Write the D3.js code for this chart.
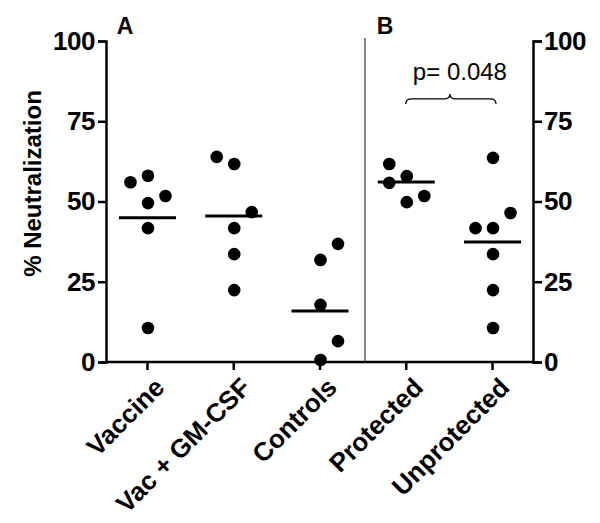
<!DOCTYPE html>
<html><head><meta charset="utf-8">
<script src="https://cdn.jsdelivr.net/npm/d3@7"></script>
<style>body{margin:0;background:#fff}svg{display:block;font-family:"Liberation Sans",Arial,sans-serif}</style>
</head><body><svg id="c" width="600" height="523"></svg>
<script>
const categories = ["Vaccine", "Vac + GM-CSF", "Controls", "Protected", "Unprotected"];
const vaccine = [58, 56, 51.7, 49.5, 41.7, 10.6];
const vacGM = [63.9, 61.7, 46.7, 41.7, 33.6, 22.4];
const controls = [36.8, 31.8, 17.8, 6.5, 0.6];
const protectedV = [61.7, 57.9, 55.8, 51.7, 49.8];
const unprotected = [63.6, 46.4, 41.7, 41.7, 33.6, 22.4, 10.6];
const groupMeans = [44.9, 45.5, 15.9, 56.1, 37.4];
const yTicks = [0, 25, 50, 75, 100];
const pLabel = "p= 0.048";
// layout: horizontal slot of each dot in its column (-1 left, 0 centre, 1 right)
const slots = [[0,-1,1,0,0,0],[-1,0,1,0,0,0],[1,0,0,1,0],[-1,0,-1,1,0],[0,1,-1,0,0,0,0]];

const groups = [vaccine, vacGM, controls, protectedV, unprotected];
const svg = d3.select("#c");
const mL = 106, mR = 533, mT = 41, mB = 362;
const x = d3.scalePoint().domain(categories).range([mL, mR]).padding(0.475);
const y = d3.scaleLinear().domain([0, 100]).range([mB, mT]);
const slotW = 17.5;

// axes
const yl = svg.append("g").attr("transform", `translate(${mL},0)`)
  .call(d3.axisLeft(y).tickValues(yTicks).tickSize(8).tickPadding(3));
const yr = svg.append("g").attr("transform", `translate(${mR},0)`)
  .call(d3.axisRight(y).tickValues(yTicks).tickSize(9).tickPadding(2));
const xa = svg.append("g").attr("transform", `translate(0,${mB})`)
  .call(d3.axisBottom(x).tickSize(8).tickFormat(""));
xa.select(".domain").attr("d", `M${mL},0H${mR}`);
[yl, yr, xa].forEach(g => {
  g.selectAll(".domain").attr("stroke", "#000").attr("stroke-width", 2.5);
  g.selectAll(".tick line").attr("stroke", "#000").attr("stroke-width", 2.5);
  g.selectAll("text").attr("font-size", 26).attr("font-weight", "bold").attr("fill", "#000")
    .attr("letter-spacing", -0.5)
    .attr("font-family", '"Liberation Sans",Arial,sans-serif');
});

// x labels
svg.append("g").selectAll("text").data(categories).join("text")
  .attr("transform", d => `translate(${x(d) + 19},${mB + 27}) rotate(-45)`)
  .attr("text-anchor", "end")
  .attr("font-size", 26).attr("font-weight", "bold")
  .text(d => d);

// y title
svg.append("text").attr("transform", `translate(41,${(mT + mB) / 2 - 18}) rotate(-90)`)
  .attr("text-anchor", "middle").attr("font-size", 24).attr("font-weight", "bold")
  .text("% Neutralization");

// panel divider
svg.append("line").attr("x1", 365).attr("x2", 365).attr("y1", 38).attr("y2", mB)
  .attr("stroke", "#333").attr("stroke-width", 1.2);

// panel letters
svg.append("text").attr("x", 125).attr("y", 34).attr("text-anchor", "middle")
  .attr("font-size", 23).attr("font-weight", "bold").text("A");
svg.append("text").attr("x", 385).attr("y", 34).attr("text-anchor", "middle")
  .attr("font-size", 23).attr("font-weight", "bold").text("B");

// dots
groups.forEach((vals, gi) => {
  svg.append("g").selectAll("circle").data(vals).join("circle")
    .attr("cx", (d, i) => x(categories[gi]) + 1 + slots[gi][i] * slotW)
    .attr("cy", d => y(d)).attr("r", 6.3).attr("fill", "#000");
});

// mean lines
svg.append("g").selectAll("line").data(groupMeans).join("line")
  .attr("x1", (d, i) => x(categories[i]) - 28).attr("x2", (d, i) => x(categories[i]) + 29)
  .attr("y1", d => y(d)).attr("y2", d => y(d))
  .attr("stroke", "#000").attr("stroke-width", 3);

// brace
const bx1 = x(categories[3]) + 0, bx2 = x(categories[4]) + 4;
const bm = (bx1 + bx2) / 2 - 1;
const by = y(82), byEnd = y(80.4), byPeak = y(83.5);
svg.append("path")
  .attr("d", `M${bx1},${byEnd} Q${bx1},${by} ${bx1 + 6},${by} L${bm - 5},${by} Q${bm},${by} ${bm},${byPeak} Q${bm},${by} ${bm + 5},${by} L${bx2 - 6},${by} Q${bx2},${by} ${bx2},${byEnd}`)
  .attr("fill", "none").attr("stroke", "#000").attr("stroke-width", 1.3);
svg.append("text").attr("x", bm + 10).attr("y", y(87.8)).attr("text-anchor", "middle")
  .attr("font-size", 24).text(pLabel);
</script></body></html>
